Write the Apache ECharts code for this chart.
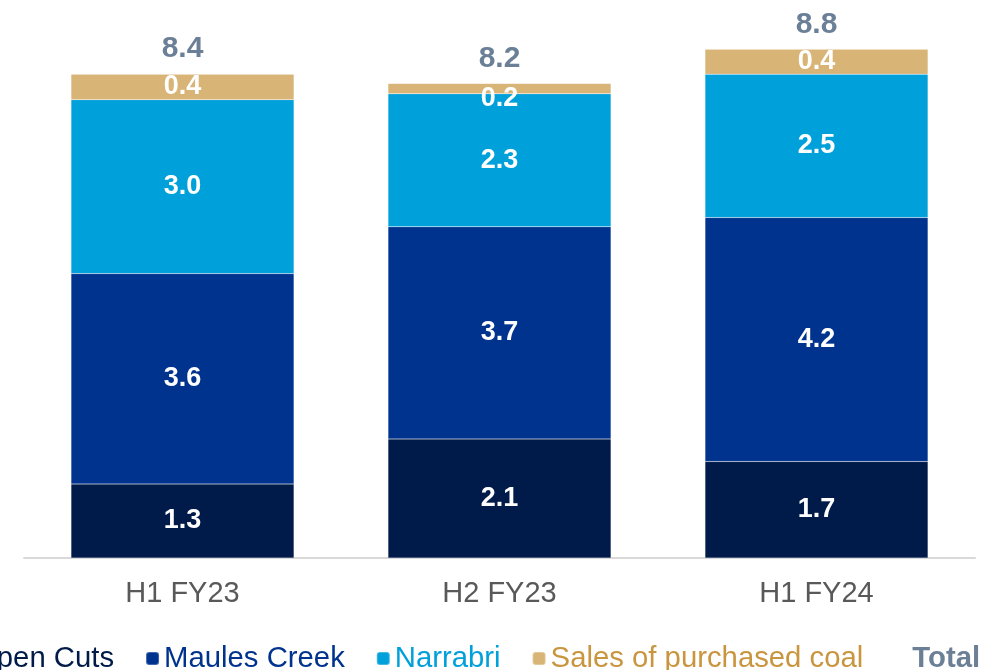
<!DOCTYPE html>
<html>
<head>
<meta charset="utf-8">
<script src="https://cdn.jsdelivr.net/npm/echarts@6/dist/echarts.min.js"></script>
<style>
  html, body { margin: 0; padding: 0; background: #fff; }
  #chart { width: 1005px; height: 670px; }
</style>
</head>
<body>
<div id="chart"></div>
<script>
// periods on the x axis
const categories = ['H1 FY23', 'H2 FY23', 'H1 FY24'];

// stacked values (Mt)
const openCuts = [1.28, 2.06, 1.67];
const maulesCreek = [3.64, 3.67, 4.22];
const narrabri = [3.01, 2.30, 2.48];
const purchasedCoal = [0.44, 0.18, 0.43];

const totals = categories.map((c, i) => openCuts[i] + maulesCreek[i] + narrabri[i] + purchasedCoal[i]);

const fontFamily = 'Liberation Sans, Arial, sans-serif';

const segLabel = {
  show: true,
  position: 'inside',
  color: '#ffffff',
  fontWeight: 'bold',
  fontSize: 27,
  fontFamily: fontFamily,
  formatter: (p) => p.value.toFixed(1),
};

const stackSeries = (name, data, color) => ({
  name: name,
  type: 'bar',
  stack: 'total',
  // very thin slices get their label pushed down a bit, like the original
  data: data.map((v) => (v < 0.3 ? { value: v, label: { offset: [0, 10] } } : v)),
  barWidth: 223,
  itemStyle: { color: color, borderColor: 'rgba(255,255,255,0.25)', borderWidth: 0.5 },
  label: segLabel,
});

const chart = echarts.init(document.getElementById('chart'));

const option = {
  animation: false,
  grid: {
    left: 24,
    right: 30,
    top: 37.8,
    bottom: 112,
  },
  legend: {
    left: -50,
    top: 639,
    itemWidth: 13,
    itemHeight: 13,
    itemGap: 31,
    textStyle: { fontSize: 29.3, fontFamily: fontFamily },
    data: [
      { name: 'Open Cuts', textStyle: { color: '#001b49' } },
      { name: 'Maules Creek', textStyle: { color: '#00338e' } },
      { name: 'Narrabri', textStyle: { color: '#00a0da' } },
      { name: 'Sales of purchased coal', textStyle: { color: '#c9953f' } },
      { name: 'Total', textStyle: { color: '#6b7f96', fontWeight: 'bold' } },
    ],
  },
  xAxis: {
    type: 'category',
    data: categories,
    axisTick: { show: false },
    axisLine: { lineStyle: { color: '#d9d9d9', width: 2 } },
    axisLabel: {
      color: '#595959',
      fontSize: 29,
      fontFamily: fontFamily,
      margin: 21,
    },
  },
  yAxis: {
    type: 'value',
    min: 0,
    max: 9,
    show: false,
    splitLine: { show: false },
  },
  series: [
    stackSeries('Open Cuts', openCuts, '#001b49'),
    stackSeries('Maules Creek', maulesCreek, '#00338e'),
    stackSeries('Narrabri', narrabri, '#00a0da'),
    stackSeries('Sales of purchased coal', purchasedCoal, '#d9b477'),
    {
      name: 'Total',
      type: 'bar',
      data: totals,
      barWidth: 223,
      barGap: '-100%',
      z: 1,
      itemStyle: { color: 'rgba(0,0,0,0)' },
      label: {
        show: true,
        position: 'top',
        distance: 10,
        color: '#6b7f96',
        fontWeight: 'bold',
        fontSize: 30,
        fontFamily: fontFamily,
        formatter: (p) => p.value.toFixed(1),
      },
    },
  ],
};

chart.setOption(option);
</script>
</body>
</html>
